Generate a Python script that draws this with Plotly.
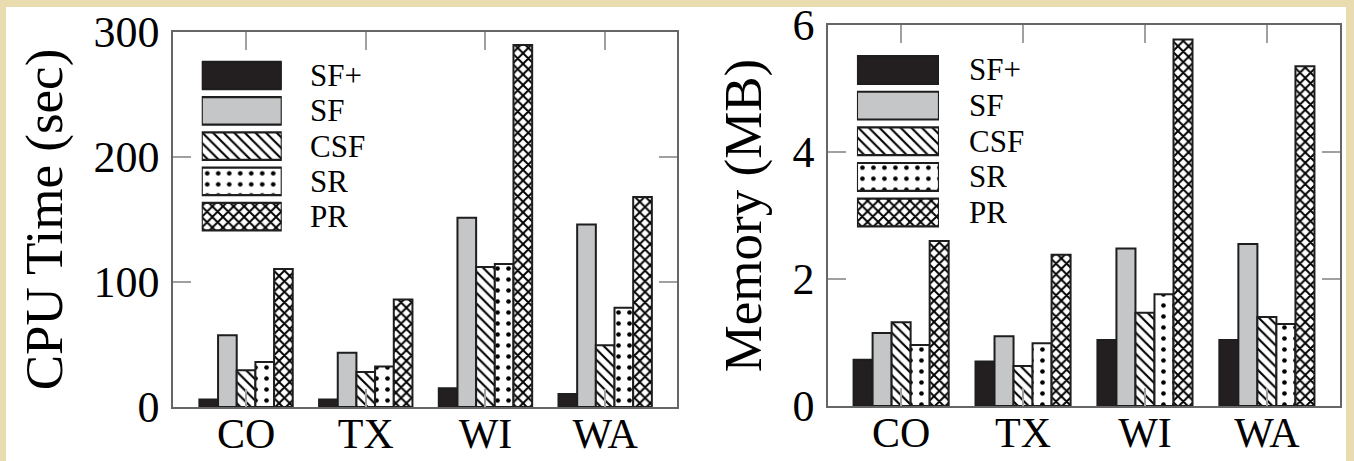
import plotly.graph_objects as go

# ---------------- data ----------------
categories = ["CO", "TX", "WI", "WA"]
series_names = ["SF+", "SF", "CSF", "SR", "PR"]

cpu_sf_plus = [6, 6, 15, 10.5]
cpu_sf = [57.5, 43.5, 151.5, 146]
cpu_csf = [29.5, 28, 112, 49.5]
cpu_sr = [36, 32.5, 114.5, 79.5]
cpu_pr = [110.5, 86, 289.5, 168]

mem_sf_plus = [0.73, 0.70, 1.04, 1.04]
mem_sf = [1.15, 1.10, 2.48, 2.55]
mem_csf = [1.32, 0.63, 1.47, 1.40]
mem_sr = [0.96, 0.99, 1.76, 1.29]
mem_pr = [2.60, 2.38, 5.77, 5.35]

cpu_ticks = [0, 100, 200, 300]
mem_ticks = [0, 2, 4, 6]

cpu_values = [cpu_sf_plus, cpu_sf, cpu_csf, cpu_sr, cpu_pr]
mem_values = [mem_sf_plus, mem_sf, mem_csf, mem_sr, mem_pr]

# ---------------- styles ----------------
FONT = "Liberation Serif"
EDGE = "#1e1e1e"
styles = [
    dict(color="#231f20", pattern=dict(shape="")),
    dict(color="#c5c6c8", pattern=dict(shape="")),
    dict(color="white", pattern=dict(shape="\\", fgcolor="black", bgcolor="white", fgopacity=1, size=7.5, solidity=0.28)),
    dict(color="white", pattern=dict(shape=".", fgcolor="black", bgcolor="white", fgopacity=1, size=11, solidity=0.14)),
    dict(color="white", pattern=dict(shape="x", fgcolor="black", bgcolor="white", fgopacity=1, size=7.5, solidity=0.45)),
]

fig = go.Figure()

# main bars
for vals_list, xa, ya in [(cpu_values, "x", "y"), (mem_values, "x2", "y2")]:
    for name, vals, st in zip(series_names, vals_list, styles):
        fig.add_trace(go.Bar(
            x=categories, y=vals, name=name, xaxis=xa, yaxis=ya,
            marker=dict(color=st["color"], pattern=st["pattern"],
                        line=dict(color=EDGE, width=2)),
            showlegend=False,
        ))

# legend boxes drawn as bars on small hidden axes
for xa, ya in [("x3", "y3"), ("x4", "y4")]:
    for i, (name, st) in enumerate(zip(series_names, styles)):
        fig.add_trace(go.Bar(
            x=[1], y=[i], base=0, orientation="h", name=name,
            xaxis=xa, yaxis=ya, width=0.78, offset=-0.39,
            marker=dict(color=st["color"], pattern=st["pattern"],
                        line=dict(color=EDGE, width=2.2)),
            cliponaxis=False, showlegend=False, hoverinfo="skip",
        ))

axis_common = dict(
    showline=True, linecolor="#666666", linewidth=1.5, mirror="ticks",
    ticks="inside", ticklen=18, tickwidth=1.5, tickcolor="#a0a0a0",
    showgrid=False, zeroline=False, automargin=False,
)
x_font = dict(family=FONT, size=42, color="black")
y_font = dict(family=FONT, size=44, color="black")
hidden = dict(visible=False, fixedrange=True, automargin=False, showgrid=False, zeroline=False)

layout = dict(
    width=1354, height=461,
    margin=dict(l=0, r=0, t=0, b=0, autoexpand=False),
    paper_bgcolor="#e9dcae",
    plot_bgcolor="white",
    barmode="group", bargap=0.22, bargroupgap=0,
    font=dict(family=FONT, color="black"),
    xaxis=dict(domain=[0.1278, 0.5], range=[-0.61, 3.6], anchor="y", ticklabelstandoff=-11,
               tickfont=x_font, **axis_common),
    yaxis=dict(domain=[0.1171, 0.9306], range=[0, 300], tickvals=cpu_ticks, anchor="x", ticklabelstandoff=3,
               tickfont=y_font,
               title=dict(text="CPU Time (sec)", font=dict(family=FONT, size=53, color="black"), standoff=14),
               **axis_common),
    xaxis2=dict(domain=[0.6115, 0.9897], range=[-0.6, 3.6], anchor="y2", ticklabelstandoff=-11,
                tickfont=x_font, **axis_common),
    yaxis2=dict(domain=[0.1193, 0.9458], range=[0, 6], tickvals=mem_ticks, anchor="x2", ticklabelstandoff=3,
                tickfont=y_font,
                title=dict(text="Memory (MB)", font=dict(family=FONT, size=53, color="black"), standoff=14),
                **axis_common),
    xaxis3=dict(domain=[0.1490, 0.2081], range=[0, 1], anchor="y3", **hidden),
    yaxis3=dict(domain=[0.4917, 0.8745], range=[4.5, -0.5], anchor="x3", **hidden),
    xaxis4=dict(domain=[0.6329, 0.6935], range=[0, 1], anchor="y4", **hidden),
    yaxis4=dict(domain=[0.5004, 0.8868], range=[4.5, -0.5], anchor="x4", **hidden),
    shapes=[dict(type="rect", xref="paper", yref="paper", x0=6/1354, x1=1346/1354, y0=-0.01, y1=(461-7)/461,
                 fillcolor="white", line=dict(width=0), layer="below")],
)
fig.update_layout(**layout)

# legend labels
for x_text, yref in [(0.2275, "y3"), (0.7142, "y4")]:
    for i, name in enumerate(series_names):
        fig.add_annotation(x=x_text, xref="paper", y=i, yref=yref, text=name,
                           showarrow=False, xanchor="left", yanchor="middle", height=33,
                           font=dict(family=FONT, size=31, color="black"))

fig.write_html(
    "out.html",
    config={"displayModeBar": False},
    post_script="document.body.style.margin='0';document.body.style.overflow='hidden';",
)
